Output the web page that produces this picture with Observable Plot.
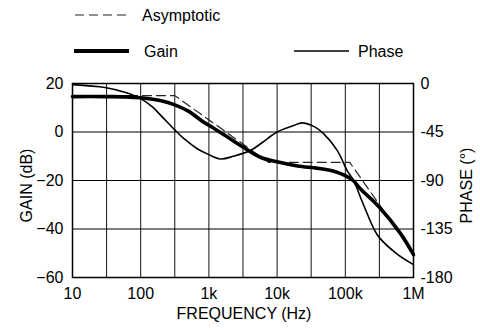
<!DOCTYPE html>
<html><head><meta charset="utf-8">
<script src="https://cdn.jsdelivr.net/npm/d3@7"></script>
<script src="https://cdn.jsdelivr.net/npm/@observablehq/plot@0.6"></script>
<style>
body{margin:0;background:#fff;font-family:"Liberation Sans",Arial,sans-serif;}
#wrap{position:relative;width:480px;height:330px;}
#legend{position:absolute;left:0;top:0;}
</style></head><body>
<div id="wrap"><div id="chart"></div><svg id="legend" width="480" height="70"></svg></div>
<script>
// ---- data ----
const xTicks = [10, 100, 1000, 10000, 100000, 1000000];
const xTickLabels = ["10", "100", "1k", "10k", "100k", "1M"];
const gridFreqs = [10, 31.6, 100, 316, 1000, 3160, 10000, 31600, 100000, 316000, 1000000];
const gainTicks = [20, 0, -20, -40, -60];
const phaseTickLabels = ["0", "-45", "-90", "-135", "-180"];

const gainFreq = [10, 30, 60, 100, 200, 316, 500, 842, 1000, 2000, 3160, 5700, 10000, 20000, 40000, 70000, 100000, 130000, 166000, 316000, 650000, 1000000];
const gainDb   = [14.6, 14.6, 14.5, 14.1, 12.9, 11.2, 8.6, 4.0, 2.8, -2.6, -6.2, -10.4, -12.3, -14.0, -15.0, -16.3, -18.0, -20.0, -23.4, -31.0, -42.0, -50.6];

const asymFreq = [10, 316, 7500, 116000, 1000000];
const asymDb   = [15, 15, -12.5, -12.5, -50];

const phaseFreq = [10, 30, 60, 100, 150, 200, 316, 427, 675, 1000, 1480, 2300, 4100, 6000, 10000, 17500, 23000, 35000, 48000, 76000, 107000, 132000, 178000, 263000, 316000, 570000, 1000000];
const phaseDeg  = [-1, -3.7, -8.4, -14, -22, -30, -43, -51, -60.5, -66, -70, -67.5, -62, -55, -45, -39, -36.5, -40, -46.5, -62, -81, -90, -110, -135, -143, -158, -168];

// ---- build ----
const phaseToGain = p => 20 + p * 80 / 180;
const gainData = gainFreq.map((f, i) => ({f, v: gainDb[i]}));
const asymData = asymFreq.map((f, i) => ({f, v: asymDb[i]}));
const phaseData = phaseFreq.map((f, i) => ({f, v: phaseToGain(phaseDeg[i])}));
const xLab = new Map(xTicks.map((t, i) => [t, xTickLabels[i]]));
const pLab = new Map(gainTicks.map((t, i) => [t, phaseTickLabels[i]]));

const chart = Plot.plot({
  width: 480, height: 330,
  marginLeft: 72, marginRight: 67, marginTop: 83, marginBottom: 53,
  style: {fontFamily: '"Liberation Sans", Arial, sans-serif', fontSize: "16px", color: "#000", background: "#fff"},
  x: {type: "log", domain: [10, 1e6]},
  y: {domain: [-60, 20]},
  marks: [
    Plot.gridX(gridFreqs, {stroke: "#111", strokeOpacity: 1, strokeWidth: 1}),
    Plot.gridY(gainTicks, {stroke: "#000", strokeOpacity: 1, strokeWidth: 1}),
    Plot.line(asymData, {x: "f", y: "v", stroke: "#222", strokeWidth: 1.2, strokeDasharray: "9,5"}),
    Plot.line(phaseData, {x: "f", y: "v", stroke: "#000", strokeWidth: 1.6, curve: "catmull-rom"}),
    Plot.line(gainData, {x: "f", y: "v", stroke: "#000", strokeWidth: 3.6, curve: "catmull-rom"}),
    Plot.frame({stroke: "#000", strokeWidth: 1.5}),
    Plot.axisX(xTicks, {tickSize: 0, tickPadding: 10, tickFormat: d => xLab.get(d), fontSize: 16, label: null}),
    Plot.axisY(gainTicks, {anchor: "left", tickSize: 0, tickPadding: 9, fontSize: 16, label: null}),
    Plot.axisY(gainTicks, {anchor: "right", tickSize: 0, tickPadding: 7, tickFormat: d => pLab.get(d), fontSize: 16, label: null}),
    Plot.text(["GAIN (dB)"], {frameAnchor: "left", text: d => d, rotate: -90, dx: -46, dy: 5, textAnchor: "middle", fontSize: 16}),
    Plot.text(["PHASE (°)"], {frameAnchor: "right", text: d => d, rotate: -90, dx: 53, dy: 5, textAnchor: "middle", fontSize: 16}),
    Plot.text(["FREQUENCY (Hz)"], {frameAnchor: "bottom", text: d => d, dx: 1, dy: 41, textAnchor: "middle", fontSize: 16})
  ]
});
document.getElementById("chart").appendChild(chart);

// ---- legend ----
const lg = d3.select("#legend");
const items = [
  {label: "Asymptotic", x1: 75, x2: 128, tx: 142, y: 15, w: 1.2, dash: "9,5", c: "#222"},
  {label: "Gain", x1: 74, x2: 129, tx: 144, y: 51, w: 4, dash: null, c: "#000"},
  {label: "Phase", x1: 294, x2: 349, tx: 358, y: 51, w: 1.5, dash: null, c: "#000"}
];
for (const it of items) {
  lg.append("line").attr("x1", it.x1).attr("x2", it.x2).attr("y1", it.y).attr("y2", it.y)
    .attr("stroke", it.c).attr("stroke-width", it.w).attr("stroke-dasharray", it.dash);
  lg.append("text").attr("x", it.tx).attr("y", it.y).attr("dy", "0.35em")
    .attr("font-size", 16).attr("font-family", '"Liberation Sans", Arial, sans-serif').text(it.label);
}
</script>
</body></html>
